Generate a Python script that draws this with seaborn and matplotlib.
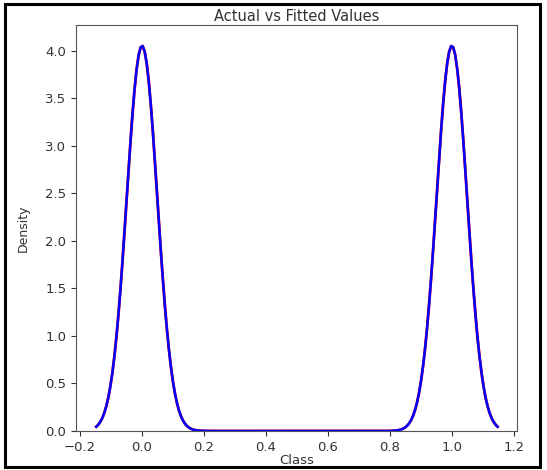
import numpy as np
import pandas as pd
import matplotlib
matplotlib.use("Agg")
import matplotlib.pyplot as plt
import seaborn as sns
from matplotlib.patches import Rectangle

# Data: class values and their counts (balanced binary target)
classes = [0, 1]
actual_counts = [54000, 54000]
fitted_counts = [54000, 54000]

actual = np.repeat(classes, actual_counts)
fitted = np.repeat(classes, fitted_counts)

fig = plt.figure(figsize=(5.47, 4.70), dpi=100)
ax = fig.add_axes([0.139, 0.083, 0.806, 0.864])

sns.kdeplot(x=actual, color="red", linewidth=2, ax=ax, label="Actual Value")
sns.kdeplot(x=fitted, color="blue", linewidth=1.8, ax=ax, label="Fitted Values")

ax.set_title("Actual vs Fitted Values", fontsize=10.5, color="#333333", pad=3)
ax.set_xlabel("Class", fontsize=9.5, labelpad=0, color="#333333")
ax.set_ylabel("Density", fontsize=9, labelpad=11, color="#333333")
ax.set_xlim(-0.213, 1.21)
ax.set_ylim(0, 4.27)
ax.set_xticks([-0.2, 0.0, 0.2, 0.4, 0.6, 0.8, 1.0, 1.2])
ax.set_yticks([0.0, 0.5, 1.0, 1.5, 2.0, 2.5, 3.0, 3.5, 4.0])
ax.tick_params(labelsize=9.5, colors="#333333")
for s in ax.spines.values():
    s.set_color("#555555")

fig.patches.append(Rectangle((0.009, 0.006), 0.978, 0.985, transform=fig.transFigure,
                             fill=False, edgecolor="black", linewidth=2.2))

fig.savefig("out.png", dpi=100)
